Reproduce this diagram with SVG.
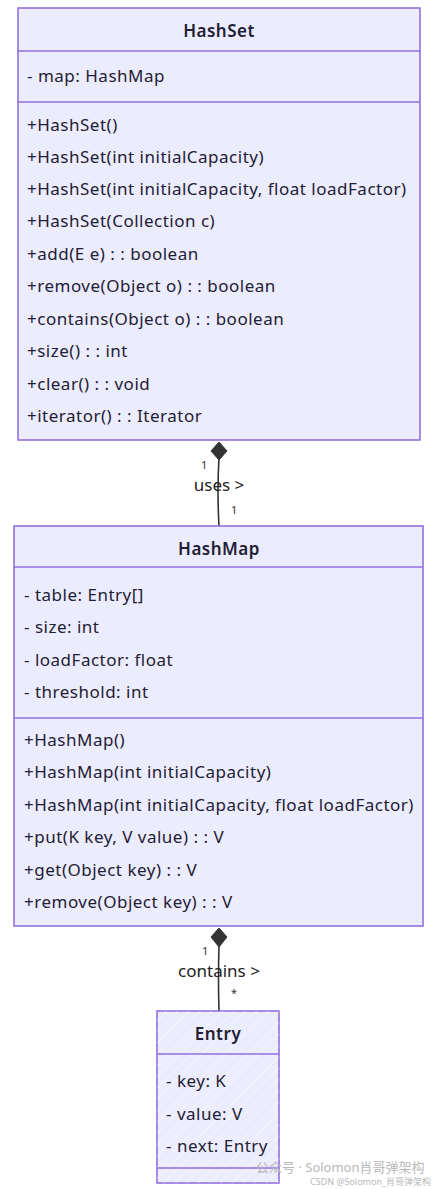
<svg xmlns="http://www.w3.org/2000/svg" width="442" height="1189" viewBox="0 0 442 1189">
<defs>
<style>
.box{fill:#ECECFF;stroke:#9370DB;stroke-width:1.6}
.div{stroke:#9370DB;stroke-width:1.3;fill:none}
.t{font-family:"Noto Sans","Open Sans",sans-serif;font-size:17px;letter-spacing:0.5px;fill:#1f2033}
.title{font-weight:600;text-anchor:middle}
.edge{stroke:#333;stroke-width:1.6;fill:none}
.lbl{font-family:"Noto Sans","Open Sans",sans-serif;font-size:17px;fill:#222;text-anchor:middle}
.card{font-family:"Noto Sans","Open Sans",sans-serif;font-size:11px;fill:#333}
.wm{font-family:"Noto Sans","Noto Sans CJK SC",sans-serif;fill:#b8b8b8}
</style>
<pattern id="hatch" width="8" height="8" patternUnits="userSpaceOnUse" patternTransform="rotate(45)">
<line x1="0" y1="0" x2="0" y2="8" stroke="#ffffff" stroke-width="1.2" opacity="0.7"/>
</pattern>
</defs>
<rect width="442" height="1189" fill="#ffffff"/>
<g id="connectors">
<g id="hs-hm">
<path class="edge" d="M219 458 Q217 490 219 526"/>
<path d="M219 442 L227 451 L219 460 L211 451 Z" fill="#333" stroke="#333" stroke-width="1"/>
<text class="card" x="201" y="469">1</text>
<text class="lbl" x="219" y="491">uses &gt;</text>
<text class="card" x="231" y="514">1</text>
</g>
<g id="hm-entry">
<path class="edge" d="M219 944 Q218 980 219 1011"/>
<path d="M219 928 L227 937 L219 947 L211 937 Z" fill="#333" stroke="#333" stroke-width="1"/>
<text class="card" x="202" y="955">1</text>
<text class="lbl" x="219" y="977">contains &gt;</text>
<text class="card" x="231" y="997">*</text>
</g>
</g>
<g id="HashSet">
<rect class="box" x="18" y="8" width="402" height="432"/>
<line class="div" x1="18" y1="51" x2="420" y2="51"/>
<line class="div" x1="18" y1="102" x2="420" y2="102"/>
<text class="t title" x="219" y="37">HashSet</text>
<text class="t" x="27" y="82">- map: HashMap</text>
<text class="t" x="27" y="131">+HashSet()</text>
<text class="t" x="27" y="163">+HashSet(int initialCapacity)</text>
<text class="t" x="27" y="195">+HashSet(int initialCapacity, float loadFactor)</text>
<text class="t" x="27" y="227">+HashSet(Collection c)</text>
<text class="t" x="27" y="260">+add(E e) : : boolean</text>
<text class="t" x="27" y="292">+remove(Object o) : : boolean</text>
<text class="t" x="27" y="325">+contains(Object o) : : boolean</text>
<text class="t" x="27" y="357">+size() : : int</text>
<text class="t" x="27" y="390">+clear() : : void</text>
<text class="t" x="27" y="422">+iterator() : : Iterator</text>
</g>
<g id="HashMap">
<rect class="box" x="14" y="526" width="409" height="400"/>
<line class="div" x1="14" y1="567" x2="423" y2="567"/>
<line class="div" x1="14" y1="718" x2="423" y2="718"/>
<text class="t title" x="219" y="555">HashMap</text>
<text class="t" x="24" y="601">- table: Entry[]</text>
<text class="t" x="24" y="633">- size: int</text>
<text class="t" x="24" y="666">- loadFactor: float</text>
<text class="t" x="24" y="698">- threshold: int</text>
<text class="t" x="24" y="746">+HashMap()</text>
<text class="t" x="24" y="778">+HashMap(int initialCapacity)</text>
<text class="t" x="24" y="811">+HashMap(int initialCapacity, float loadFactor)</text>
<text class="t" x="24" y="843">+put(K key, V value) : : V</text>
<text class="t" x="24" y="876">+get(Object key) : : V</text>
<text class="t" x="24" y="908">+remove(Object key) : : V</text>
</g>
<g id="Entry">
<rect class="box" x="157" y="1011" width="122" height="172"/>
<rect x="157" y="1011" width="122" height="172" fill="url(#hatch)"/>
<line class="div" x1="157" y1="1054" x2="279" y2="1054"/>
<line class="div" x1="157" y1="1168" x2="279" y2="1168"/>
<text class="t title" x="218" y="1040">Entry</text>
<text class="t" x="166" y="1087">- key: K</text>
<text class="t" x="166" y="1120">- value: V</text>
<text class="t" x="166" y="1152">- next: Entry</text>
</g>
<g id="watermark">
<text class="wm" x="256" y="1172" font-size="13">公众号 · Solomon肖哥弹架构</text>
<text class="wm" x="310" y="1185" font-size="9">CSDN @Solomon_肖哥弹架构</text>
</g>
</svg>
